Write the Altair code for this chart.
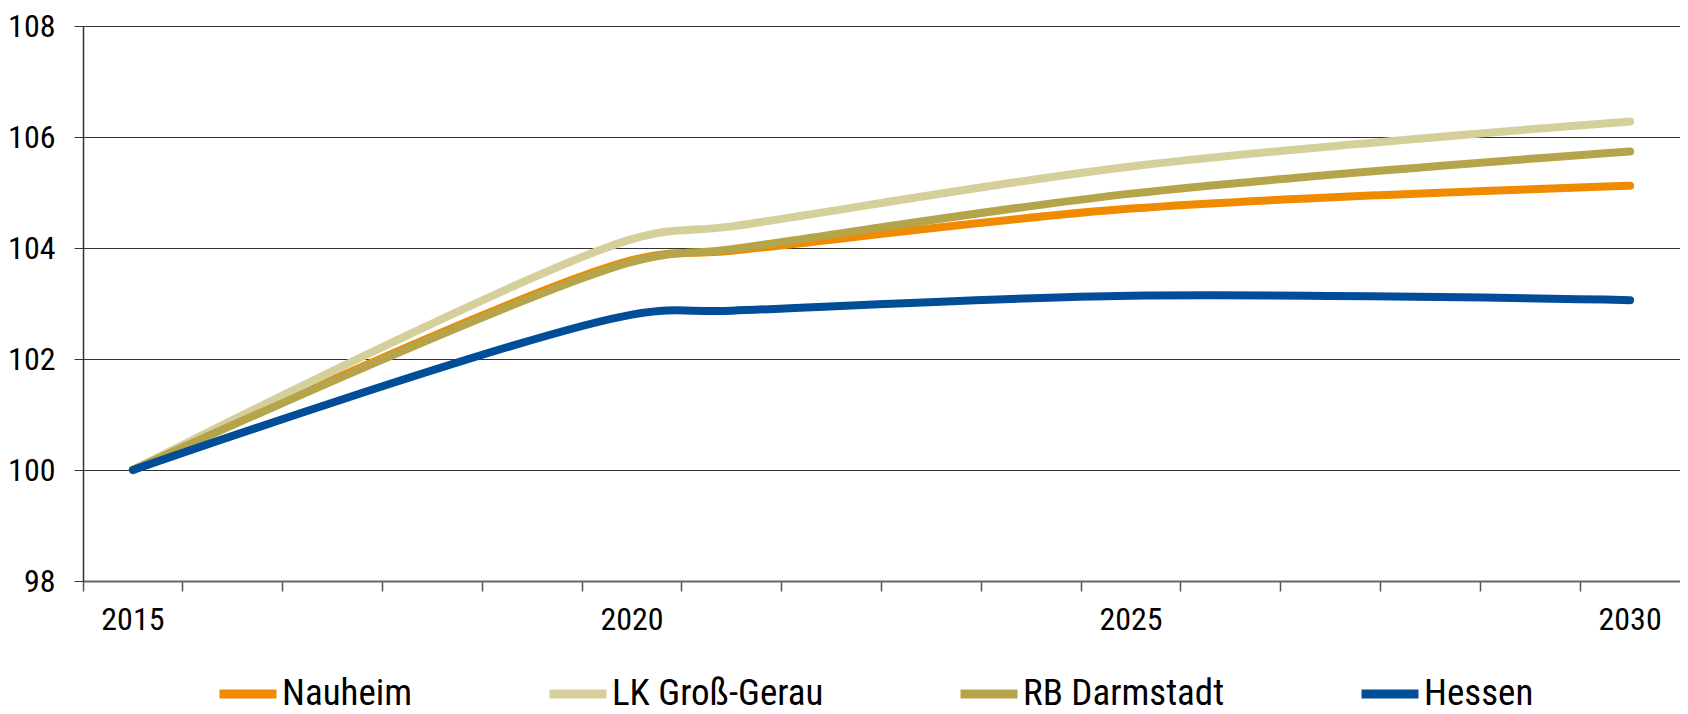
import altair as alt
import pandas as pd

# ---- data ----
all_years = [str(y) for y in range(2015, 2031)]
years = ["2015", "2020", "2021", "2025", "2030"]
series_names = ["Nauheim", "LK Groß-Gerau", "RB Darmstadt", "Hessen"]
nauheim = [100.0, 103.78, 103.95, 104.71, 105.12]
lk_gross_gerau = [100.0, 104.16, 104.39, 105.47, 106.28]
rb_darmstadt = [100.0, 103.75, 103.98, 104.98, 105.74]
hessen = [100.0, 102.80, 102.87, 103.14, 103.06]
series_colors = ["#F08A00", "#D5CF9B", "#B5A44A", "#004E98"]
y_ticks = [98, 100, 102, 104, 106, 108]

rows = []
for name, vals in zip(series_names, [nauheim, lk_gross_gerau, rb_darmstadt, hessen]):
    for y, v in zip(years, vals):
        rows.append({"Jahr": y, "Wert": v, "Gebiet": name})
df = pd.DataFrame(rows)

FONT = "Noto Sans Condensed, Roboto Condensed, Open Sans Condensed, Liberation Sans Narrow, DejaVu Sans Condensed, Liberation Sans"
PLOT_W = 1597
PLOT_H = 555

chart = (
    alt.Chart(df)
    .mark_line(interpolate="catmull-rom", strokeWidth=8, strokeCap="round", strokeJoin="round")
    .encode(
        x=alt.X(
            "Jahr:O",
            bandPosition=0.5,
            scale=alt.Scale(type="band", domain=all_years, paddingInner=0, paddingOuter=0),
            axis=alt.Axis(
                title=None,
                bandPosition=0,
                labelOffset=0,
                labelExpr="toNumber(datum.value) % 5 == 0 ? datum.label : ''",
                labelAngle=0,
                labelFontSize=32,
                labelFont=FONT,
                labelColor="#000",
                labelPadding=13,
                tickSize=10,
                tickColor="#555",
                tickWidth=1.5,
                domainColor="#666",
                domainWidth=2,
                grid=False,
            ),
        ),
        y=alt.Y(
            "Wert:Q",
            scale=alt.Scale(domain=[98, 108], nice=False, zero=False),
            axis=alt.Axis(
                title=None,
                values=y_ticks,
                labelFontSize=32,
                labelFont=FONT,
                labelColor="#000",
                labelPadding=19,
                tickSize=9,
                tickColor="#333",
                domainColor="#333",
                domainWidth=1.5,
                grid=True,
                gridColor="#333",
                gridWidth=1,
            ),
        ),
        color=alt.Color(
            "Gebiet:N",
            scale=alt.Scale(domain=series_names, range=series_colors),
            sort=series_names,
            legend=alt.Legend(
                title=None,
                orient="none",
                legendX=132,
                legendY=635,
                direction="horizontal",
                columns=4,
                columnPadding=118,
                symbolType="stroke",
                symbolStrokeWidth=9,
                symbolSize=3249,
                labelFontSize=37,
                labelFont=FONT,
                labelColor="#000",
                labelOffset=1,
                padding=0,
                labelLimit=400,
            ),
        ),
    )
    .properties(
        width=PLOT_W,
        height=PLOT_H,
        autosize=alt.AutoSizeParams(type="none"),
        padding={"left": 75, "top": 18, "right": 0, "bottom": 134},
    )
    .configure_view(stroke="#8c8c8c", strokeWidth=2)
    .configure(background="white")
)

chart.save("out.html", embed_options={"renderer": "svg", "actions": False})
